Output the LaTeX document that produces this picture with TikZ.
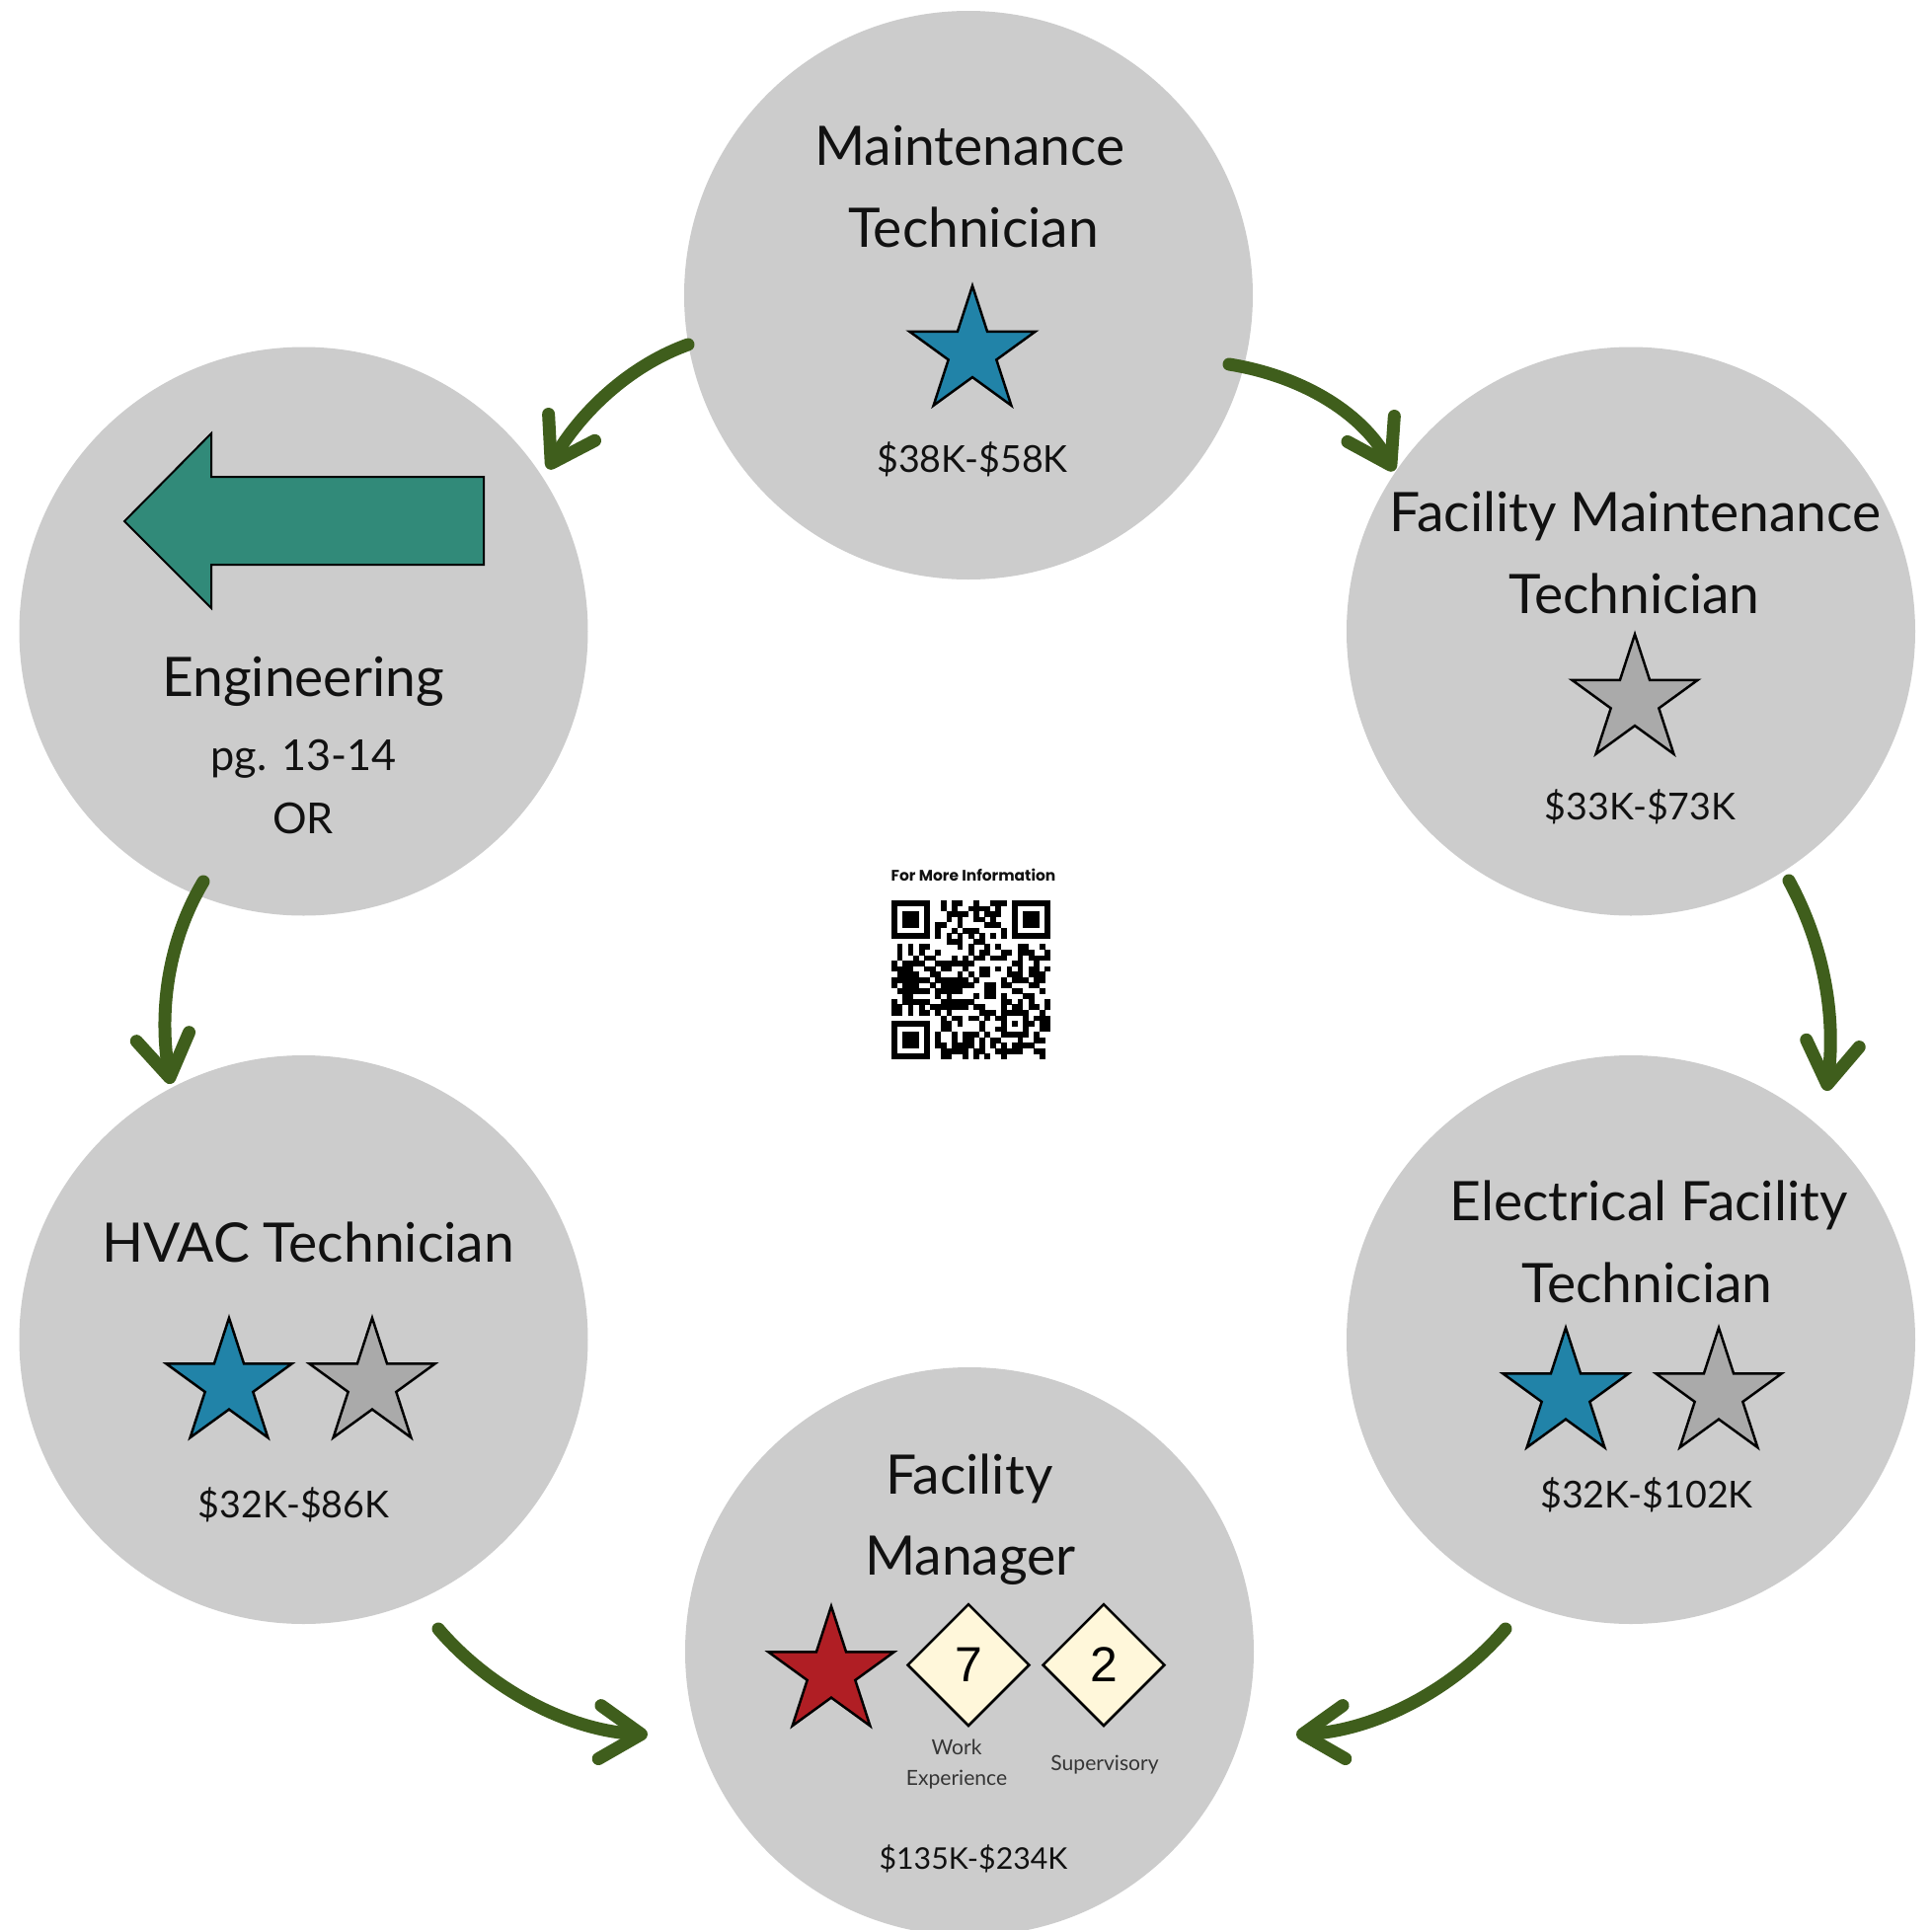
\documentclass[tikz,border=0pt]{standalone}
\usepackage{fontspec}
\setmainfont{Lato}
\newfontfamily\digitfont{Liberation Sans}
\newfontfamily\qrfont{Poppins}
\usetikzlibrary{shapes.geometric,arrows.meta}
\definecolor{circgray}{RGB}{204,204,204}
\definecolor{starblue}{RGB}{33,131,168}
\definecolor{stargray}{RGB}{170,170,170}
\definecolor{starred}{RGB}{176,30,36}
\definecolor{diamfill}{RGB}{255,247,218}
\definecolor{arrgreen}{RGB}{63,94,28}
\definecolor{engteal}{RGB}{49,138,121}
\definecolor{ink}{RGB}{17,17,17}
\def\QRx{903}
\def\QRy{912}
\def\QRm{5.55}
\begin{document}
\begin{tikzpicture}[x=0.1mm,y=-0.1mm,
  stage/.style={circle, fill=circgray, minimum size=57.6mm, inner sep=0pt, outer sep=0pt},
  ttl/.style={anchor=base, inner sep=0pt, text=ink, font=\fontsize{15.7}{18}\selectfont},
  sub/.style={anchor=base, inner sep=0pt, text=ink, font=\fontsize{12.3}{14}\selectfont},
  pay/.style={anchor=base, inner sep=0pt, text=ink, font=\fontsize{10.7}{12}\selectfont},
  paysmall/.style={anchor=base, inner sep=0pt, text=ink, font=\fontsize{8.6}{10}\selectfont},
  tinylabel/.style={anchor=base, inner sep=0pt, text=ink!85, font=\fontsize{6}{7}\selectfont},
  qrhead/.style={anchor=base, inner sep=0pt, text=ink, font=\qrfont\bfseries\fontsize{4.4}{5}\selectfont},
  rating/.style={star, star points=5, star point ratio=2.618, minimum size=13.4mm, inner sep=0pt, draw=black, line width=0.25mm},
  badge/.style={diamond, aspect=1, minimum size=12.4mm, inner sep=0pt, draw=black, line width=0.25mm, fill=diamfill, text=black, font=\digitfont\fontsize{14.2}{16}\selectfont},
  flow/.style={draw=arrgreen, line width=1.3mm, line cap=round, -{Straight Barb[length=4.2mm,width=5.4mm,round]}},
  qrdot/.style={fill=black}
]
% canvas
\fill[white] (0,0) rectangle (1957,1955);
\useasboundingbox (0,0) rectangle (1957,1955);

% stage circles
\node[stage] (top) at (981,299) {};
\node[stage] (eng) at (307.5,639.5) {};
\node[stage] (fmt) at (1652,639.5) {};
\node[stage] (hvac) at (307.5,1357) {};
\node[stage] (elec) at (1652,1357) {};
\node[stage] (mgr) at (982,1673) {};

% Maintenance Technician
\node[ttl] (topt1) at (982.5,167) {Maintenance};
\node[ttl] (topt2) at (986,250) {Technician};
\node[rating, fill=starblue] (tops) at (985,356.5) {};
\node[pay] (topp) at (985,478) {\$38K-\$58K};

% Facility Maintenance Technician
\node[ttl] (fmtt1) at (1656.5,538) {Facility Maintenance};
\node[ttl] (fmtt2) at (1655.5,621) {Technician};
\node[rating, fill=stargray] (fmts) at (1656,709.5) {};
\node[pay] (fmtp) at (1661.5,830) {\$33K-\$73K};

% Electrical Facility Technician
\node[ttl] (elect1) at (1670,1236) {Electrical Facility};
\node[ttl] (elect2) at (1668.5,1319) {Technician};
\node[rating, fill=starblue] (elecs1) at (1586,1412) {};
\node[rating, fill=stargray] (elecs2) at (1741,1412) {};
\node[pay] (elecp) at (1668,1527) {\$32K-\$102K};

% HVAC Technician
\node[ttl] (hvact) at (312,1278) {HVAC Technician};
\node[rating, fill=starblue] (hvacs1) at (232,1402) {};
\node[rating, fill=stargray] (hvacs2) at (377,1402) {};
\node[pay] (hvacp) at (297.5,1537) {\$32K-\$86K};

% Engineering
\draw[fill=engteal, draw=black, line width=0.2mm, line join=miter]
  (126,528) -- (214,439) -- (214,483) -- (490,483) -- (490,572) -- (214,572) -- (214,616) -- cycle;
\node[ttl] (engt) at (307,705) {Engineering};
\node[sub] (engpg) at (307.5,780) {pg. 13-14};
\node[sub] (engor) at (307,844) {OR};

% Facility Manager
\node[ttl] (mgrt1) at (982,1513) {Facility};
\node[ttl] (mgrt2) at (983,1595) {Manager};
\node[rating, fill=starred] (mgrs) at (842,1694) {};
\node[badge] (mgrw) at (981,1686.5) {7};
\node[badge] (mgrv) at (1118,1686.5) {2};
\node[tinylabel] (mgrw1) at (969,1777) {Work};
\node[tinylabel] (mgrw2) at (969,1808) {Experience};
\node[tinylabel] (mgrv1) at (1119,1793) {Supervisory};
\node[paysmall] (mgrp) at (986,1893) {\$135K-\$234K};

% connectors
\coordinate (s1) at (697,349);   \coordinate (e1) at (555,475);
\coordinate (s2) at (1245,369);  \coordinate (e2) at (1412,477);
\coordinate (s3) at (1812,892);  \coordinate (e3) at (1850,1105);
\coordinate (s4) at (1525,1650); \coordinate (e4) at (1313,1757);
\coordinate (s5) at (206,893);   \coordinate (e5) at (173,1098);
\coordinate (s6) at (444,1650);  \coordinate (e6) at (656,1757);
\draw[flow] (s1) .. controls (636,371) and (587,419) .. (e1);
\draw[flow] (s2) .. controls (1314,380) and (1378,415) .. (e2);
\draw[flow] (s3) .. controls (1848,958) and (1860,1031) .. (e3);
\draw[flow] (s4) .. controls (1473,1711) and (1393,1753) .. (e4);
\draw[flow] (s5) .. controls (169,955) and (161,1027) .. (e5);
\draw[flow] (s6) .. controls (496,1711) and (576,1753) .. (e6);

% QR code
\node[qrhead] (qrtitle) at (986,892) {For More Information};
\pgfmathsetseed{2024}
\foreach \i in {0,...,28}{
  \foreach \j in {0,...,28}{
    \pgfmathtruncatemacro\res{or(or(and(\i<8,\j<8),and(\i>20,\j<8)),or(and(\i<8,\j>20),or(or(\i==6,\j==6),and(and(\i>19,\i<25),and(\j>19,\j<25)))))}
    \ifnum\res=0
      \pgfmathrandominteger{\b}{0}{1}
      \ifnum\b=1
        \fill[qrdot] ({\QRx+\i*\QRm},{\QRy+\j*\QRm}) rectangle ++(5.8,5.8);
      \fi
    \fi
  }
}
\foreach \k in {8,10,...,20}{
  \fill[qrdot] ({\QRx+\k*\QRm},{\QRy+6*\QRm}) rectangle ++(5.8,5.8);
  \fill[qrdot] ({\QRx+6*\QRm},{\QRy+\k*\QRm}) rectangle ++(5.8,5.8);
}
\foreach \a/\c in {0/0,22/0,0/22}{
  \fill[qrdot] ({\QRx+\a*\QRm},{\QRy+\c*\QRm}) rectangle ++({7*\QRm},{7*\QRm});
  \fill[white] ({\QRx+(\a+1)*\QRm},{\QRy+(\c+1)*\QRm}) rectangle ++({5*\QRm},{5*\QRm});
  \fill[qrdot] ({\QRx+(\a+2)*\QRm},{\QRy+(\c+2)*\QRm}) rectangle ++({3*\QRm},{3*\QRm});
}
\fill[qrdot] ({\QRx+20*\QRm},{\QRy+20*\QRm}) rectangle ++({5*\QRm},{5*\QRm});
\fill[white] ({\QRx+21*\QRm},{\QRy+21*\QRm}) rectangle ++({3*\QRm},{3*\QRm});
\fill[qrdot] ({\QRx+22*\QRm},{\QRy+22*\QRm}) rectangle ++({\QRm},{\QRm});
\end{tikzpicture}
\end{document}
